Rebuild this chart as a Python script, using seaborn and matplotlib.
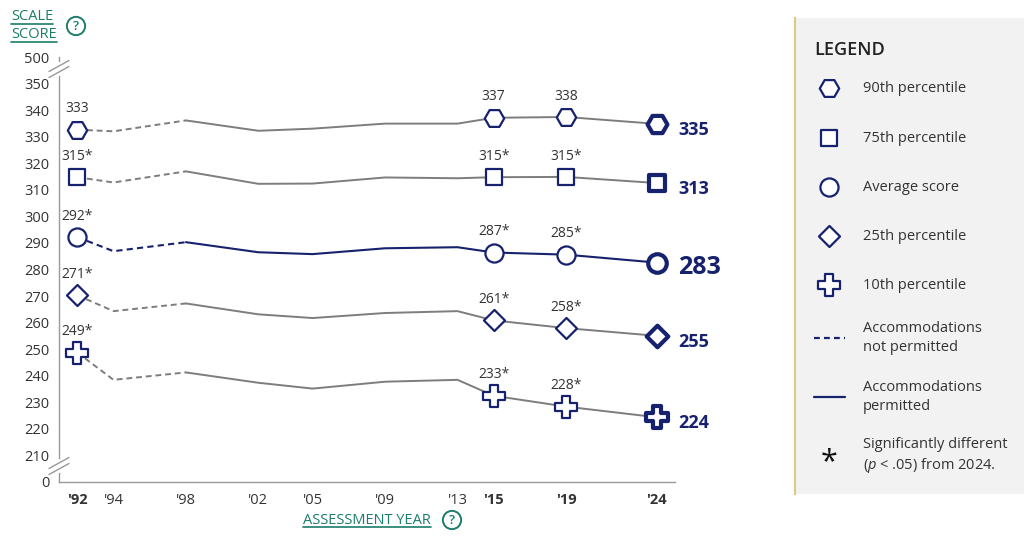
import numpy as np
import pandas as pd
import seaborn as sns
import matplotlib.pyplot as plt
from matplotlib.path import Path
from matplotlib.lines import Line2D

years = [1992, 1994, 1998, 2002, 2005, 2009, 2013, 2015, 2019, 2024]
year_labels = ["'92", "'94", "'98", "'02", "'05", "'09", "'13", "'15", "'19", "'24"]
bold_years = [1992, 2015, 2019, 2024]

p90 = [332.7, 332.1, 336.2, 332.3, 333.1, 335.0, 335.0, 337.2, 337.5, 334.9]
p75 = [314.8, 312.8, 317.0, 312.3, 312.4, 314.7, 314.4, 314.8, 314.9, 312.6]
avg = [292.2, 286.9, 290.3, 286.5, 285.8, 288.0, 288.4, 286.4, 285.6, 282.6]
p25 = [270.3, 264.3, 267.2, 263.1, 261.7, 263.6, 264.3, 260.8, 257.9, 255.0]
p10 = [248.7, 238.4, 241.2, 237.3, 235.1, 237.7, 238.4, 232.4, 228.3, 224.3]

series_names = ["90th percentile", "75th percentile", "Average score",
                "25th percentile", "10th percentile"]
labels_1992 = ["333", "315*", "292*", "271*", "249*"]
labels_2015 = ["337", "315*", "287*", "261*", "233*"]
labels_2019 = ["338", "315*", "285*", "258*", "228*"]
labels_2024 = ["335", "313", "283", "255", "224"]

ytick_vals = [200, 210, 220, 230, 240, 250, 260, 270, 280, 290, 300, 310, 320, 330, 340, 350, 360]
ytick_labels = ["0", "210", "220", "230", "240", "250", "260", "270", "280", "290",
                "300", "310", "320", "330", "340", "350", "500"]

NAVY = "#17226e"
GRAY = "#7d7d7d"
TEAL = "#1b7d6a"
TXT = "#333333"

sns.set_theme(style="white")
plt.rcParams["font.family"] = ["Open Sans", "DejaVu Sans"]
plt.rcParams["mathtext.fontset"] = "custom"
plt.rcParams["mathtext.rm"] = "Open Sans"
plt.rcParams["mathtext.it"] = "Open Sans:italic"

W, H = 1024, 541
def fx(px):
    return px / W
def fy(py):
    return 1 - py / H

# fat plus marker
a = 0.2
pv = [(-a, -0.5), (a, -0.5), (a, -a), (0.5, -a), (0.5, a), (a, a), (a, 0.5),
      (-a, 0.5), (-a, a), (-0.5, a), (-0.5, -a), (-a, -a), (-a, -0.5)]
plus = Path(pv, [Path.MOVETO] + [Path.LINETO] * (len(pv) - 2) + [Path.CLOSEPOLY])

markers = ["H", "s", "o", "D", plus]
sizes = [195, 135, 170, 115, 245]

fig = plt.figure(figsize=(W / 100, H / 100), dpi=100)
ax = fig.add_axes([fx(59), fy(481.7), fx(675) - fx(59), fy(57.3) - fy(481.7)])

df = pd.DataFrame({"year": years, "90th percentile": p90, "75th percentile": p75,
                   "Average score": avg, "25th percentile": p25, "10th percentile": p10})

for i, name in enumerate(series_names):
    col = NAVY if name == "Average score" else GRAY
    lw = 1.5 if name == "Average score" else 1.4
    early = df[df.year <= 1998]
    late = df[df.year >= 1998]
    sns.lineplot(data=early, x="year", y=name, ax=ax, color=col, lw=lw,
                 linestyle=(0, (3, 2)), zorder=2)
    sns.lineplot(data=late, x="year", y=name, ax=ax, color=col, lw=lw, zorder=2)

    pts = df[df.year.isin([1992, 2015, 2019])]
    sns.scatterplot(data=pts, x="year", y=name, ax=ax, marker=markers[i], s=sizes[i],
                    color="white", edgecolor=NAVY, linewidth=1.6, zorder=4)
    last = df[df.year == 2024]
    sns.scatterplot(data=last, x="year", y=name, ax=ax, marker=markers[i], s=sizes[i] * 1.05,
                    color="white", edgecolor=NAVY, linewidth=3.0, zorder=4)

    for yr, lab in zip([1992, 2015, 2019], [labels_1992[i], labels_2015[i], labels_2019[i]]):
        v = df.loc[df.year == yr, name].iloc[0]
        ax.annotate(lab, (yr, v), xytext=(0, 12.5), textcoords="offset points",
                    ha="center", va="baseline", fontsize=10, color=TXT)
    v = df.loc[df.year == 2024, name].iloc[0]
    big = name == "Average score"
    ax.annotate(labels_2024[i], (2024, v), xytext=(15.5, -8.5 if big else -8),
                textcoords="offset points", ha="left", va="baseline",
                fontsize=18 if big else 13, fontweight="bold", color=NAVY,
                annotation_clip=False)

ax.set_xlim(1990.99, 2025.01)
ax.set_ylim(200, 360)
ax.set_xticks(years)
ax.set_xticklabels(year_labels)
for t, yr in zip(ax.get_xticklabels(), years):
    if yr in bold_years:
        t.set_fontweight("bold")
ax.set_yticks(ytick_vals)
ax.set_yticklabels(ytick_labels)
ax.set_xlabel("")
ax.set_ylabel("")
ax.tick_params(axis="both", which="both", direction="out", colors="#999999",
               labelcolor=TXT, labelsize=10.5, width=1)
ax.tick_params(axis="y", length=5, pad=2)
ax.tick_params(axis="x", length=5, pad=3)
for s in ["top", "right"]:
    ax.spines[s].set_visible(False)
for s in ["left", "bottom"]:
    ax.spines[s].set_color("#999999")
    ax.spines[s].set_linewidth(1)
ax.set_facecolor("white")

# axis breaks
def brk(yc1, yc2):
    fig.add_artist(Line2D([fx(59), fx(59)], [fy(yc1 - 2), fy(yc2 + 2)], color="white", lw=3, zorder=5))
    for yc in (yc1, yc2):
        fig.add_artist(Line2D([fx(49), fx(69)], [fy(yc + 5.5), fy(yc - 5.5)],
                              color="#999999", lw=1, zorder=6))
brk(66, 72)
brk(463, 469)

# legend panel
lax = fig.add_axes([fx(795), fy(494), fx(1024) - fx(795), fy(18) - fy(494)])
lax.set_xlim(795, 1024)
lax.set_ylim(494, 18)
lax.set_facecolor("#f2f2f2")
lax.set_xticks([])
lax.set_yticks([])
for s in ["top", "right", "bottom"]:
    lax.spines[s].set_visible(False)
lax.spines["left"].set_color("#d8c983")
lax.spines["left"].set_linewidth(1.5)

lax.text(814, 50, "LEGEND", fontsize=13, fontweight="semibold", color="#222222",
         ha="left", va="center")
leg_y = [88, 138, 187, 236, 285]
for i, name in enumerate(series_names):
    lax.scatter([829], [leg_y[i]], marker=markers[i], s=sizes[i], facecolor="white",
                edgecolor=NAVY, linewidth=1.6, zorder=3)
    lax.text(863, leg_y[i], name, fontsize=10.5, color=TXT, ha="left", va="center")

lax.plot([814, 845], [338, 338], color=NAVY, lw=1.6, linestyle=(0, (2.6, 1.9)))
lax.text(863, 338, "Accommodations\nnot permitted", fontsize=10.5, color=TXT,
         ha="left", va="center", linespacing=1.35)
lax.plot([814, 845], [397, 397], color=NAVY, lw=1.6)
lax.text(863, 397, "Accommodations\npermitted", fontsize=10.5, color=TXT,
         ha="left", va="center", linespacing=1.35)
lax.text(829, 462, "*", fontsize=22, color="#111111", ha="center", va="center")
lax.text(863, 456, "Significantly different\n($\\it{p}$ < .05) from 2024.", fontsize=10.5,
         color=TXT, ha="left", va="center", linespacing=1.35)

# headers with underline
t1 = fig.text(fx(11), fy(17), "SCALE", fontsize=10.5, color=TEAL, ha="left", va="center",
              fontweight="medium")
t2 = fig.text(fx(11), fy(35), "SCORE", fontsize=10.5, color=TEAL, ha="left", va="center",
              fontweight="medium")
t3 = fig.text(fx(367), fy(520), "ASSESSMENT YEAR", fontsize=10.5, color=TEAL,
              ha="center", va="center", fontweight="medium")
for qx, qy in [(76, 26), (452, 520)]:
    fig.text(fx(qx), fy(qy), "?", fontsize=9.5, color=TEAL, ha="center", va="center",
             fontweight="semibold",
             bbox=dict(boxstyle="circle,pad=0.2", fc="none", ec=TEAL, lw=1.4))

fig.canvas.draw()
r = fig.canvas.get_renderer()
for t in (t1, t2, t3):
    bb = t.get_window_extent(r)
    yl = (bb.y0 + 0.5) / H
    fig.add_artist(Line2D([bb.x0 / W, bb.x1 / W], [yl, yl], color=TEAL, lw=1.2))

fig.savefig("out.png", dpi=100, facecolor="white")
